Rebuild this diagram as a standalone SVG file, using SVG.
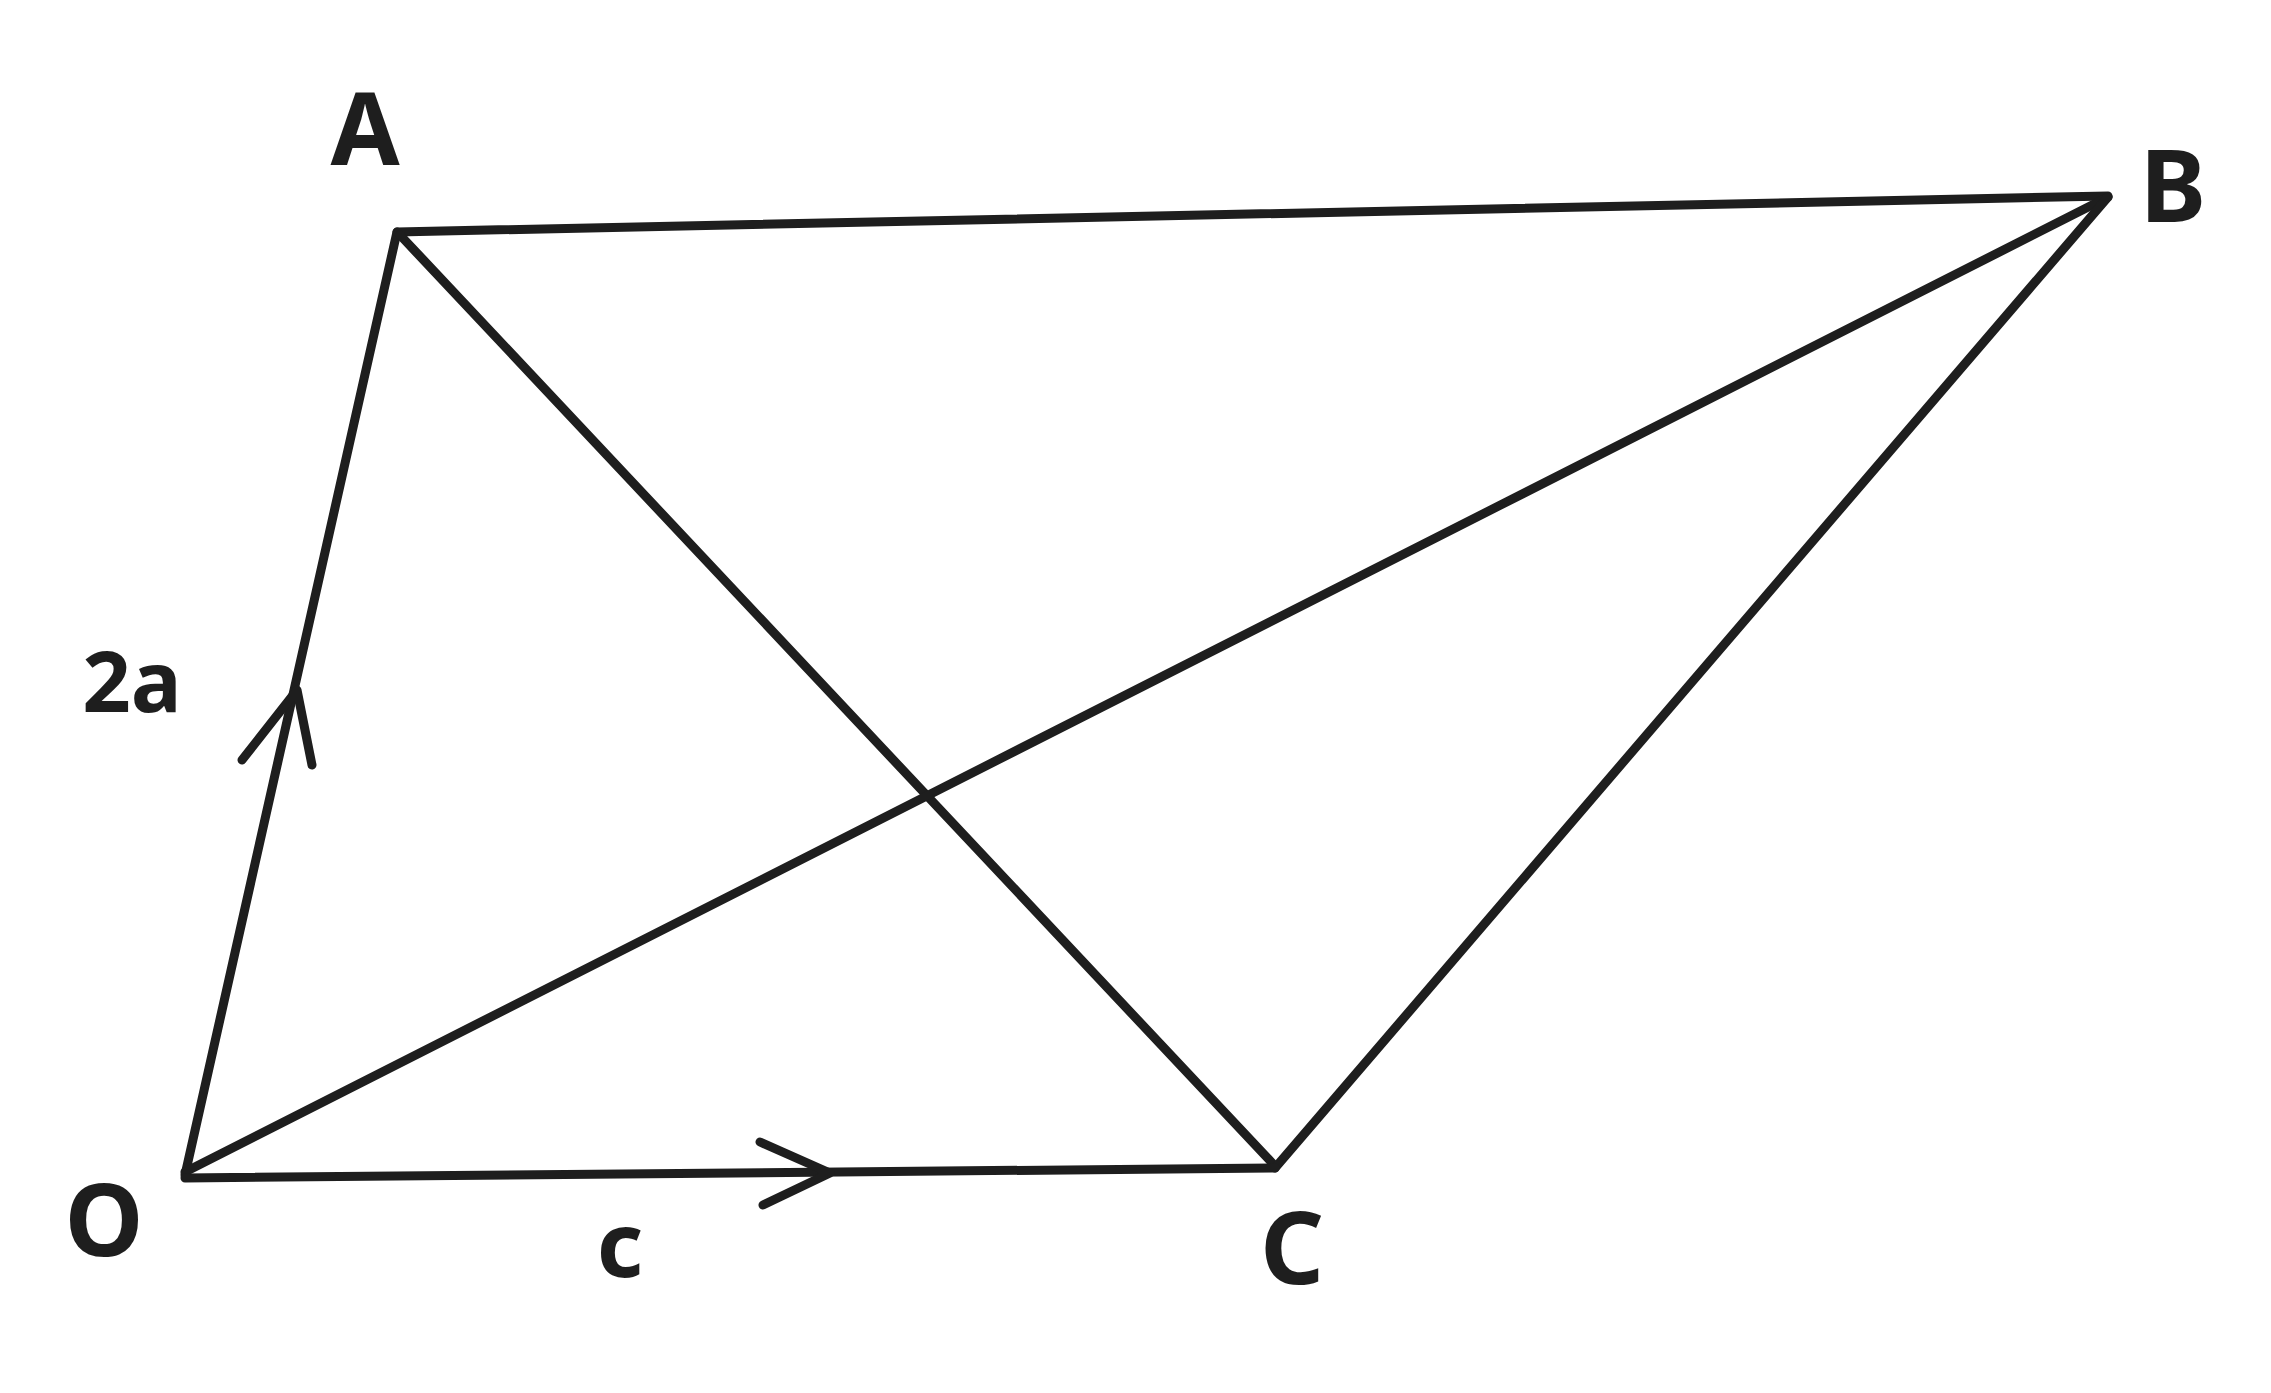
<svg xmlns="http://www.w3.org/2000/svg" width="2271" height="1393" viewBox="0 0 2271 1393">
<style>
.ln{stroke:#1e1e1e;stroke-width:9;fill:none;stroke-linecap:round;stroke-linejoin:round}
.lb{font-family:"Noto Sans","Liberation Sans",sans-serif;font-weight:bold;fill:#1e1e1e;text-anchor:middle}
</style>
<rect width="2271" height="1393" fill="#ffffff"/>
<g id="connectors">
<path class="ln" d="M185 1175 L397 232"/>
<path class="ln" d="M397 232 L2108 196"/>
<path class="ln" d="M400 235 L1275 1166"/>
<path class="ln" d="M185 1172 L2108 197"/>
<path class="ln" d="M2108 197 L1275 1168"/>
<path class="ln" d="M185 1178 L1275 1168"/>
<path class="ln" d="M242 760 L297 690 L312 765"/>
<path class="ln" d="M760 1142 L830 1173 L763 1205"/>
</g>
<g id="node-A"><text class="lb" x="365" y="165" font-size="100">A</text></g>
<g id="node-B"><text class="lb" x="2173" y="222" font-size="100">B</text></g>
<g id="node-O"><text class="lb" x="104" y="1256" font-size="100">O</text></g>
<g id="node-C"><text class="lb" x="1292" y="1284" font-size="100">C</text></g>
<g id="label-2a"><text class="lb" x="132" y="712" font-size="85">2a</text></g>
<g id="label-c"><text class="lb" x="620" y="1277" font-size="90">c</text></g>
</svg>
